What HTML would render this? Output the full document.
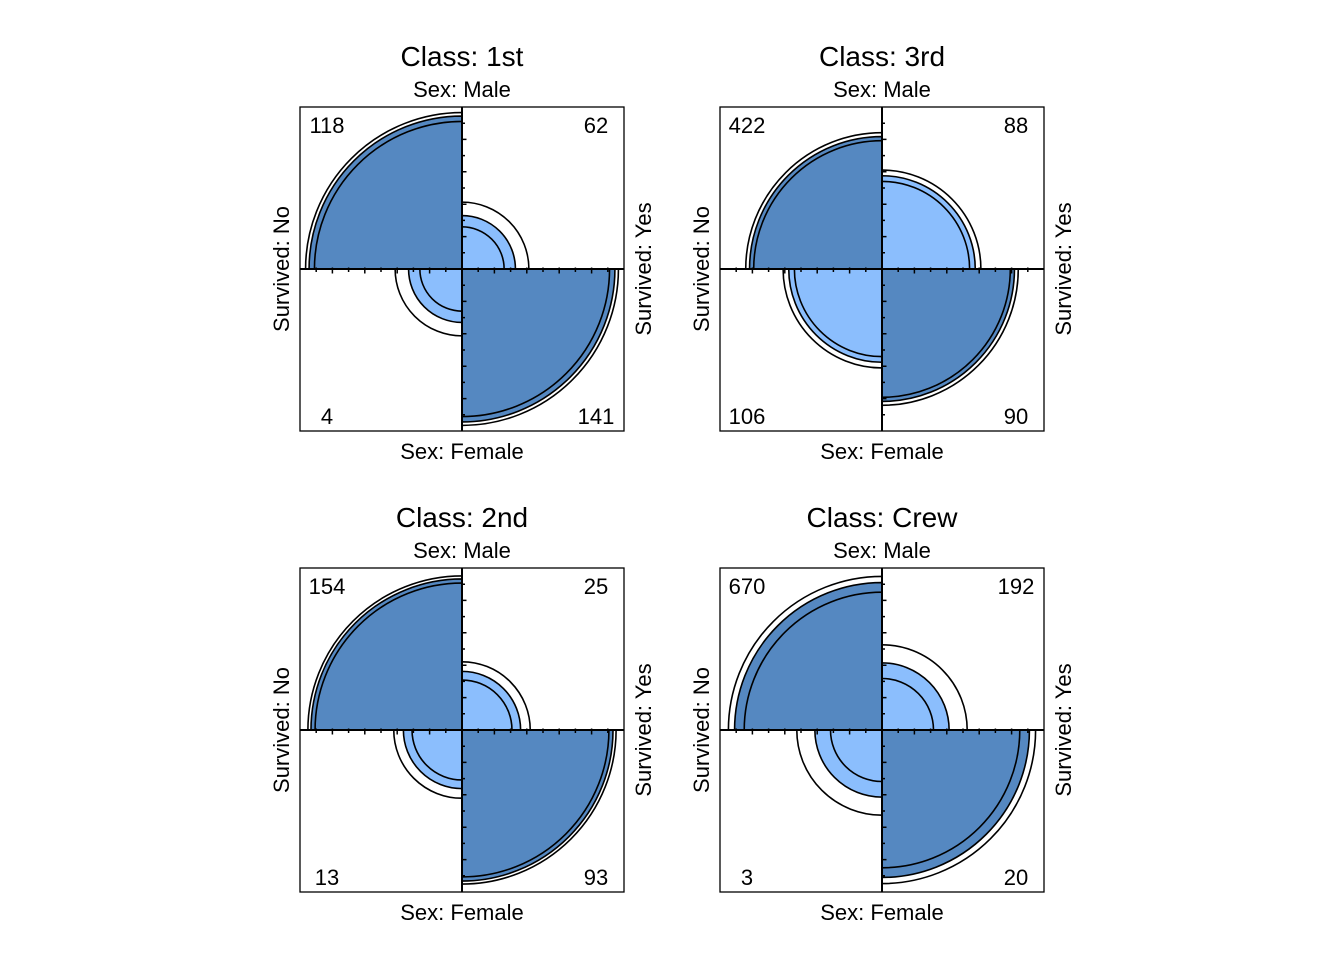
<!DOCTYPE html>
<html><head><meta charset="utf-8"><style>
body{margin:0;background:#fff;}
svg{display:block;font-family:"Liberation Sans",sans-serif;}
</style></head><body>
<svg id="chart" width="1344" height="960" viewBox="0 0 1344 960" xmlns="http://www.w3.org/2000/svg"></svg>
<script>
const classes = ["1st","3rd","2nd","Crew"];
// counts: [Male-No, Male-Yes, Female-No, Female-Yes]
const maleNo = [118,422,154,670];
const maleYes = [62,88,25,192];
const femaleNo = [4,106,13,3];
const femaleYes = [141,90,93,20];

const NS="http://www.w3.org/2000/svg";
const svg=document.getElementById('chart');
const centers=[[462,269],[882,269],[462,730],[882,730]];
const H=162, K=H*Math.SQRT2, Z=1.96;
const DARK="#5588c1", LIGHT="#8bbefd";
function mk(tag,attrs,parent){const e=document.createElementNS(NS,tag);for(const k in attrs)e.setAttribute(k,attrs[k]);(parent||svg).appendChild(e);return e;}
function cells(or){const s=Math.sqrt(or);const a=0.5*s/(1+s);return [a,0.5-a];}
function sector(g,cx,cy,r,q,fill,name){
  const dx=(q==1||q==3)?1:-1, dy=(q==2||q==3)?1:-1;
  const d=`M${cx},${cy} L${cx+dx*r},${cy} A${r},${r} 0 0 ${dx*dy>0?1:0} ${cx},${cy+dy*r} Z`;
  const p=mk('path',{d:d,fill:fill,stroke:'#000','stroke-width':1.6},g);
  
  
}
function arc(g,cx,cy,r,q,name){
  const dx=(q==1||q==3)?1:-1, dy=(q==2||q==3)?1:-1;
  const d=`M${cx+dx*r},${cy} A${r},${r} 0 0 ${dx*dy>0?1:0} ${cx},${cy+dy*r}`;
  const p=mk('path',{d:d,fill:'none',stroke:'#000','stroke-width':1.6},g);
  
  
}
function txt(g,x,y,s,size,anchor,name,rot){
  const t=mk('text',{x:x,y:y,'font-size':size,'text-anchor':anchor||'middle',fill:'#000'},g);
  if(rot)t.setAttribute('transform',`rotate(${rot} ${x} ${y})`);
  t.textContent=s;
  
  
  return t;
}
classes.forEach((c,i)=>{
  const [cx,cy]=centers[i];
  const g=mk('g',{});
  
  
  const n=[maleNo[i],maleYes[i],femaleNo[i],femaleYes[i]];
  const or=n[0]*n[3]/(n[1]*n[2]);
  const lor=Math.log(or), se=Math.sqrt(1/n[0]+1/n[1]+1/n[2]+1/n[3]);
  const [a,b]=cells(or), lo=cells(Math.exp(lor-Z*se)), hi=cells(Math.exp(lor+Z*se));
  const names=['male-no','male-yes','female-no','female-yes'];
  const diag=[true,false,false,true];
  for(let q=0;q<4;q++){
    const p=diag[q]?a:b;
    sector(g,cx,cy,K*Math.sqrt(p),q,diag[q]?DARK:LIGHT,'sector-'+names[q]);
  }
  for(let q=0;q<4;q++){
    const p1=diag[q]?lo[0]:lo[1], p2=diag[q]?hi[0]:hi[1];
    arc(g,cx,cy,K*Math.sqrt(p1),q,'conf-ring-'+names[q]);
    arc(g,cx,cy,K*Math.sqrt(p2),q,'conf-ring-'+names[q]);
  }
  const box=mk('rect',{x:cx-H,y:cy-H,width:2*H,height:2*H,fill:'none',stroke:'#000','stroke-width':1.3},g);
  
  const ax=mk('path',{d:`M${cx-H},${cy}H${cx+H}M${cx},${cy-H}V${cy+H}`,stroke:'#000','stroke-width':2,fill:'none'},g);
  
  let td='';
  for(let k=-9;k<=9;k++){ if(k===0)continue; const L=(k%2===0)?4.5:3; const o=k*H/10;
    td+=`M${cx+o},${cy-1.5}v${L+1.5}M${cx-1},${cy+o}h${L+1}`; }
  const tk=mk('path',{d:td,stroke:'#000','stroke-width':1.5,fill:'none'},g);
  
  txt(g,cx,cy-203,'Class: '+c,28,'middle','panel-title');
  txt(g,cx,cy-172,'Sex: Male',22,'middle','top-label');
  txt(g,cx,cy+190,'Sex: Female',22,'middle','bottom-label');
  txt(g,cx-173,cy,'Survived: No',22,'middle','left-label',-90);
  txt(g,cx+189,cy,'Survived: Yes',22,'middle','right-label',-90);
  txt(g,cx-135,cy-136,String(n[0]),22,'middle','count-male-no');
  txt(g,cx+134,cy-136,String(n[1]),22,'middle','count-male-yes');
  txt(g,cx-135,cy+155,String(n[2]),22,'middle','count-female-no');
  txt(g,cx+134,cy+155,String(n[3]),22,'middle','count-female-yes');
});
</script>
</body></html>
